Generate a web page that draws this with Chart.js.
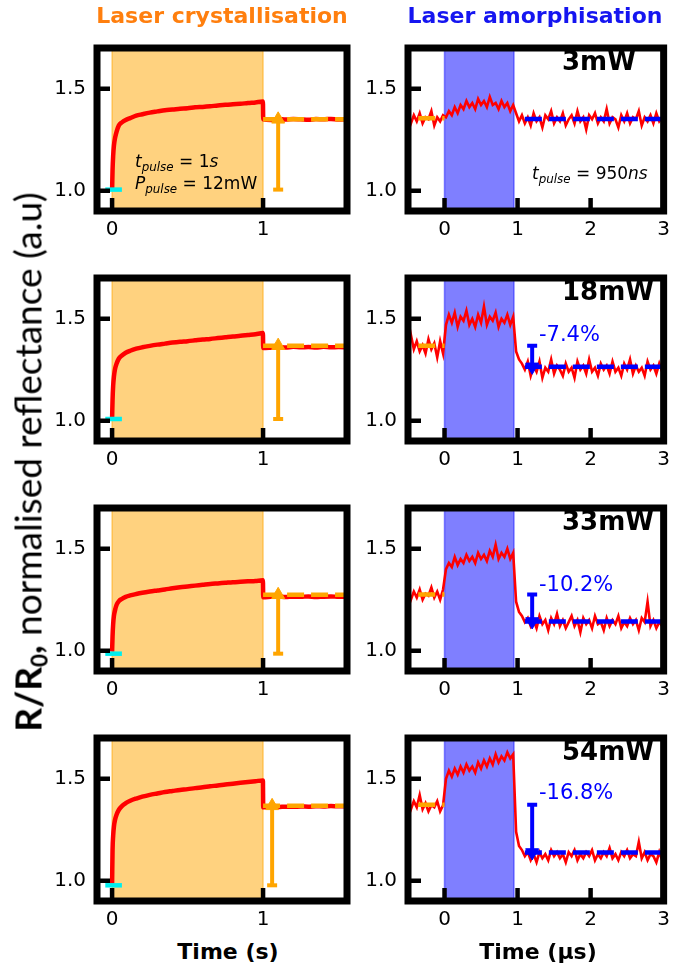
<!DOCTYPE html>
<html>
<head>
<meta charset="utf-8">
<script src="https://cdn.jsdelivr.net/npm/chart.js@4.4.1/dist/chart.umd.min.js"></script>
<style>
  html, body { margin: 0; padding: 0; background: #fff; }
  #fig { position: relative; width: 679px; height: 967px; overflow: hidden; font-family: 'DejaVu Sans', sans-serif; }
  .txt { position: absolute; white-space: nowrap; line-height: 1; color: #000; }
  .sub { font-size: 0.7em; position: relative; top: 0.3em; }
</style>
</head>
<body>
<div id="fig"></div>
<script>
/* ------------------------------------------------------------------ */
/*  data                                           */
/* ------------------------------------------------------------------ */
const Y_MIN = 0.9, Y_MAX = 1.7;
const yTicks = [1.0, 1.5];

// left column: laser crystallisation, time in s
const cryXRange = [-0.1, 1.556];
const cryXTicks = [0, 1];
const cryPulse  = [0, 1];
const tCry = [0, 0.003, 0.007, 0.012, 0.02, 0.03, 0.045, 0.065, 0.09, 0.12,
              0.16, 0.2, 0.25, 0.3, 0.35, 0.4, 0.45, 0.5, 0.55, 0.6,
              0.65, 0.7, 0.75, 0.8, 0.85, 0.9, 0.95, 0.999, 1.001, 1.05,
              1.1, 1.15, 1.2, 1.25, 1.3, 1.35, 1.4, 1.45, 1.5, 1.56];
const cry12 = [1.00, 1.10, 1.17, 1.22, 1.26, 1.29, 1.32, 1.335, 1.347, 1.356,
               1.368, 1.375, 1.383, 1.389, 1.395, 1.398, 1.402, 1.404, 1.409, 1.411,
               1.414, 1.418, 1.421, 1.424, 1.426, 1.430, 1.433, 1.437, 1.350, 1.347,
               1.351, 1.349, 1.352, 1.350, 1.348, 1.351, 1.350, 1.352, 1.349, 1.351];
const cry18 = [1.01, 1.10, 1.17, 1.215, 1.255, 1.28, 1.305, 1.32, 1.333, 1.343,
               1.353, 1.36, 1.367, 1.373, 1.378, 1.383, 1.387, 1.39, 1.394, 1.398,
               1.401, 1.405, 1.409, 1.413, 1.416, 1.42, 1.424, 1.43, 1.356, 1.358,
               1.361, 1.359, 1.362, 1.360, 1.361, 1.359, 1.362, 1.360, 1.361, 1.360];
const cry33 = [0.995, 1.07, 1.13, 1.17, 1.20, 1.225, 1.243, 1.254, 1.264, 1.271,
               1.278, 1.284, 1.29, 1.295, 1.30, 1.306, 1.311, 1.315, 1.319, 1.323,
               1.327, 1.33, 1.333, 1.336, 1.338, 1.34, 1.342, 1.345, 1.262, 1.264,
               1.266, 1.263, 1.265, 1.264, 1.266, 1.263, 1.265, 1.266, 1.264, 1.265];
const cry54 = [0.985, 1.15, 1.22, 1.265, 1.30, 1.325, 1.348, 1.366, 1.38, 1.392,
               1.403, 1.412, 1.421, 1.428, 1.435, 1.44, 1.445, 1.449, 1.454, 1.458,
               1.463, 1.467, 1.472, 1.476, 1.48, 1.484, 1.488, 1.492, 1.36, 1.362,
               1.361, 1.363, 1.362, 1.364, 1.363, 1.365, 1.364, 1.366, 1.365, 1.366];
const cryCurves  = [cry12, cry18, cry33, cry54];
const cryBase    = [1.005, 1.008, 0.985, 0.977];   // cyan marker level
const cryBaseX   = [-0.045, 0.065];
const cryPost    = [1.35, 1.368, 1.274, 1.367];    // orange dashed level
const cryPostX   = [1.0, 1.56];
const cryArrowX  = [1.1, 1.1, 1.1, 1.06];

// right column: laser amorphisation, time in µs
const amoXRange = [-0.5, 3.0];
const amoXTicks = [0, 1, 2, 3];
const amoPulse  = [0, 0.95];
const tAmo = [-0.5, -0.46, -0.42, -0.38, -0.34, -0.3, -0.26, -0.22, -0.18, -0.14, -0.1, -0.06, -0.02,
              0.02, 0.06, 0.1, 0.14, 0.18, 0.22, 0.26, 0.3, 0.34, 0.38, 0.42, 0.46,
              0.5, 0.54, 0.58, 0.62, 0.66, 0.7, 0.74, 0.78, 0.82, 0.86, 0.9, 0.94,
              0.98, 1.02, 1.06, 1.1, 1.14, 1.18, 1.22, 1.26, 1.3, 1.34,
              1.38, 1.42, 1.46, 1.5, 1.54, 1.58, 1.62, 1.66, 1.7, 1.74,
              1.78, 1.82, 1.86, 1.9, 1.94, 1.98, 2.02, 2.06, 2.1, 2.14,
              2.18, 2.22, 2.26, 2.3, 2.34, 2.38, 2.42, 2.46, 2.5, 2.54,
              2.58, 2.62, 2.66, 2.7, 2.74, 2.78, 2.82, 2.86, 2.9, 2.94,
              2.98, 3.02];
const amo3 = [1.36, 1.33, 1.37, 1.34, 1.38, 1.33, 1.36, 1.35, 1.39, 1.32, 1.36, 1.34, 1.37,
              1.36, 1.39, 1.37, 1.41, 1.38, 1.42, 1.40, 1.44, 1.41, 1.43, 1.40, 1.45,
              1.42, 1.44, 1.41, 1.46, 1.42, 1.43, 1.40, 1.44, 1.41, 1.43, 1.39, 1.42,
              1.38, 1.34, 1.37, 1.33, 1.36, 1.32, 1.38, 1.34, 1.36, 1.31,
              1.37, 1.35, 1.39, 1.33, 1.36, 1.34, 1.38, 1.32, 1.35, 1.37,
              1.33, 1.39, 1.34, 1.36, 1.30, 1.37, 1.35, 1.38, 1.33, 1.36,
              1.34, 1.40, 1.33, 1.36, 1.35, 1.31, 1.37, 1.34, 1.38, 1.33,
              1.36, 1.35, 1.39, 1.32, 1.36, 1.34, 1.37, 1.33, 1.38, 1.34,
              1.36, 1.35];
const amo18 = [1.36, 1.42, 1.35, 1.39, 1.34, 1.37, 1.33, 1.40, 1.35, 1.38, 1.31, 1.39, 1.33,
               1.47, 1.52, 1.48, 1.53, 1.46, 1.51, 1.49, 1.54, 1.47, 1.50, 1.46, 1.52,
               1.48, 1.56, 1.47, 1.51, 1.49, 1.53, 1.46, 1.50, 1.48, 1.52, 1.47, 1.51,
               1.34, 1.30, 1.28, 1.25, 1.29, 1.22, 1.27, 1.24, 1.29, 1.21,
               1.26, 1.24, 1.30, 1.23, 1.27, 1.25, 1.22, 1.28, 1.24, 1.26,
               1.21, 1.29, 1.25, 1.27, 1.23, 1.30, 1.24, 1.26, 1.22, 1.28,
               1.25, 1.27, 1.23, 1.29, 1.24, 1.26, 1.22, 1.28, 1.25, 1.30,
               1.23, 1.27, 1.24, 1.26, 1.22, 1.29, 1.25, 1.27, 1.23, 1.28,
               1.24, 1.26];
const amo33 = [1.28, 1.25, 1.29, 1.26, 1.30, 1.25, 1.28, 1.27, 1.31, 1.26, 1.29, 1.25, 1.30,
               1.40, 1.43, 1.41, 1.46, 1.42, 1.45, 1.43, 1.47, 1.44, 1.46, 1.43, 1.48,
               1.45, 1.47, 1.44, 1.49, 1.46, 1.52, 1.45, 1.48, 1.46, 1.50, 1.45, 1.48,
               1.24, 1.19, 1.17, 1.14, 1.16, 1.12, 1.15, 1.11, 1.17, 1.13,
               1.15, 1.10, 1.16, 1.13, 1.18, 1.12, 1.15, 1.11, 1.14, 1.17,
               1.12, 1.15, 1.09, 1.16, 1.13, 1.15, 1.11, 1.17, 1.13, 1.14,
               1.10, 1.16, 1.12, 1.15, 1.13, 1.17, 1.11, 1.14, 1.12, 1.16,
               1.13, 1.15, 1.10, 1.16, 1.14, 1.24, 1.12, 1.15, 1.11, 1.14,
               1.12, 1.13];
const amo54 = [1.38, 1.35, 1.39, 1.36, 1.42, 1.35, 1.38, 1.34, 1.37, 1.36, 1.39, 1.34, 1.37,
               1.50, 1.54, 1.51, 1.55, 1.52, 1.56, 1.53, 1.57, 1.54, 1.56, 1.53, 1.58,
               1.55, 1.59, 1.56, 1.60, 1.57, 1.62, 1.58, 1.61, 1.59, 1.63, 1.60, 1.62,
               1.24, 1.17, 1.15, 1.12, 1.14, 1.10, 1.13, 1.09, 1.14, 1.11,
               1.13, 1.10, 1.15, 1.12, 1.14, 1.11, 1.13, 1.09, 1.14, 1.12,
               1.15, 1.10, 1.13, 1.11, 1.14, 1.12, 1.15, 1.10, 1.13, 1.11,
               1.14, 1.12, 1.16, 1.11, 1.13, 1.10, 1.14, 1.12, 1.15, 1.11,
               1.13, 1.12, 1.19, 1.11, 1.14, 1.10, 1.13, 1.12, 1.09, 1.14,
               1.10, 1.12];
const amoCurves = [amo3, amo18, amo33, amo54];
const amoPre    = [1.355, 1.367, 1.275, 1.372];   // orange dashed level before pulse
const amoPreX   = [-0.36, 0];
const amoPost   = [1.352, 1.264, 1.143, 1.138];   // blue dashed level after pulse
const amoPostX  = [1.1, 3.0];
const amoArrowX = 1.2;
const amoPower  = ['3mW', '18mW', '33mW', '54mW'];
const amoChange = [null, '-7.4%', '-10.2%', '-16.8%'];

/* ------------------------------------------------------------------ */
/*  helpers                                                            */
/* ------------------------------------------------------------------ */
const fig = document.getElementById('fig');
const pts = (xs, ys) => xs.map((x, i) => ({ x, y: ys[i] }));

// thick box + inward ticks
const framePlugin = {
  id: 'frame',
  afterDraw(chart) {
    const { ctx, chartArea: a, scales: { x, y } } = chart;
    ctx.save();
    ctx.strokeStyle = '#000';
    ctx.lineWidth = 4.5;
    ctx.beginPath();
    x.ticks.forEach(t => {
      const px = x.getPixelForValue(t.value);
      ctx.moveTo(px, a.bottom); ctx.lineTo(px, a.bottom - 13);
    });
    y.ticks.forEach(t => {
      const py = y.getPixelForValue(t.value);
      ctx.moveTo(a.left, py); ctx.lineTo(a.left + 13, py);
    });
    ctx.stroke();
    ctx.lineWidth = 7;
    ctx.strokeRect(a.left, a.top, a.right - a.left, a.bottom - a.top);
    ctx.restore();
  }
};

function addCanvas(left, top, w, h) {
  const c = document.createElement('canvas');
  c.width = w; c.height = h;
  c.style.cssText = `position:absolute;left:${left}px;top:${top}px;width:${w}px;height:${h}px`;
  fig.appendChild(c);
  return c;
}

function span(range, color) {
  return {
    data: [{ x: range[0], y: Y_MIN }, { x: range[0], y: Y_MAX },
           { x: range[1], y: Y_MAX }, { x: range[1], y: Y_MIN }],
    fill: 'start', backgroundColor: color, borderColor: color,
    borderWidth: 1.5, pointRadius: 0, order: 9
  };
}

function hline(xr, level, color, dash) {
  return {
    data: [{ x: xr[0], y: level }, { x: xr[1], y: level }],
    borderColor: color, borderWidth: 4.5, borderDash: dash || [],
    pointRadius: 0, fill: false, order: 3
  };
}

function arrow(x, from, to, color) {
  return {
    data: [{ x, y: from }, { x, y: to }],
    borderColor: color, borderWidth: 4, fill: false,
    pointStyle: ['line', 'triangle'], pointRadius: [5, 7.5],
    pointRotation: [0, to > from ? 0 : 180], pointBorderWidth: [4, 1],
    pointBackgroundColor: color, pointBorderColor: color, order: 2
  };
}

const tickFont = { family: 'DejaVu Sans', size: 20 };

function scales(xr, xTicks, yWidth) {
  return {
    x: {
      type: 'linear', min: xr[0], max: xr[1],
      afterBuildTicks: s => { s.ticks = xTicks.map(v => ({ value: v })); },
      afterFit: s => { s.height = 34; },
      grid: { display: false, drawTicks: false }, border: { display: false },
      ticks: { font: tickFont, color: '#000', padding: 7, maxRotation: 0, autoSkip: false,
               callback: v => String(v) }
    },
    y: {
      type: 'linear', min: Y_MIN, max: Y_MAX,
      afterBuildTicks: s => { s.ticks = yTicks.map(v => ({ value: v })); },
      afterFit: s => { s.width = yWidth; },
      grid: { display: false, drawTicks: false }, border: { display: false },
      ticks: { font: tickFont, color: '#000', padding: 11, callback: v => v.toFixed(1) }
    }
  };
}

function makeChart(canvas, datasets, sc, pad) {
  return new Chart(canvas, {
    type: 'line',
    data: { datasets },
    options: {
      responsive: false, animation: false, events: [],
      layout: { padding: pad },
      plugins: { legend: { display: false }, tooltip: { enabled: false } },
      scales: sc
    },
    plugins: [framePlugin]
  });
}

function text(html, left, top, css) {
  const d = document.createElement('div');
  d.className = 'txt';
  d.innerHTML = html;
  d.style.left = left + 'px';
  d.style.top = top + 'px';
  if (css) d.style.cssText += css;
  fig.appendChild(d);
  return d;
}

/* ------------------------------------------------------------------ */
/*  panels                                                             */
/* ------------------------------------------------------------------ */
const ROW_STEP = 230;
for (let r = 0; r < 4; r++) {
  const top = 25 + r * ROW_STEP;

  // crystallisation (left)
  makeChart(addCanvas(37, top, 323, 220), [
    hline(cryBaseX, cryBase[r], '#00eeee'),
    arrow(cryArrowX[r], cryBase[r], cryPost[r], '#ffa500'),
    hline(cryPostX, cryPost[r], '#ffa500', [17, 7]),
    { data: pts(tCry, cryCurves[r]), borderColor: '#ff0000', borderWidth: 4.5,
      pointRadius: 0, fill: false, cubicInterpolationMode: 'monotone', order: 5 },
    span(cryPulse, 'rgba(255,165,0,0.5)')
  ], scales(cryXRange, cryXTicks, 60), { top: 12, right: 13, left: 0, bottom: 0 });

  // amorphisation (right)
  const sets = [
    hline(amoPreX, amoPre[r], '#ffa500', [17, 7]),
    hline(amoPostX, amoPost[r], '#0000ff', [17, 7]),
    { data: pts(tAmo, amoCurves[r]), borderColor: '#ff0000', borderWidth: 2.6,
      pointRadius: 0, fill: false, tension: 0, order: 5 },
    span(amoPulse, 'rgba(0,0,255,0.5)')
  ];
  if (amoChange[r]) sets.unshift(arrow(amoArrowX, amoPre[r], amoPost[r], '#0000ff'));
  makeChart(addCanvas(350, top, 327, 220), sets,
            scales(amoXRange, amoXTicks, 58), { top: 12, right: 13, left: 0, bottom: 0 });

  text(amoPower[r], 562, 48 + r * ROW_STEP, 'font-weight:700;font-size:26px;');
}

text('-7.4%', 539, 324, 'font-size:21px;color:#0000ff;');
text('-10.2%', 539, 574, 'font-size:21px;color:#0000ff;');
text('-16.8%', 539, 782, 'font-size:21px;color:#0000ff;');

text('<i>t</i><span class="sub"><i>pulse</i></span> = 1<i>s</i>', 135, 153, 'font-size:17px;');
text('<i>P</i><span class="sub"><i>pulse</i></span> = 12mW', 135, 175, 'font-size:17px;');
text('<i>t</i><span class="sub"><i>pulse</i></span> = 950<i>ns</i>', 532, 165, 'font-size:17px;');

// column titles
text('Laser crystallisation', 222, 5, 'font-weight:700;font-size:22px;color:#ff7f0e;transform:translateX(-50%);');
text('Laser amorphisation', 535, 5, 'font-weight:700;font-size:22px;color:#1515f0;transform:translateX(-50%);');

// x-axis titles
text('Time (s)', 228, 941, 'font-weight:700;font-size:22px;transform:translateX(-50%);');
text('Time (µs)', 538, 941, 'font-weight:700;font-size:22px;transform:translateX(-50%);');

// shared y-axis title
text('<b>R/R<span style="font-size:0.6em;position:relative;top:0.25em;">0</span>,</b> normalised reflectance (a.u)',
     27, 462, 'font-family:Lato,sans-serif;font-size:37px;transform:translate(-50%,-50%) rotate(-90deg);');
</script>
</body>
</html>
